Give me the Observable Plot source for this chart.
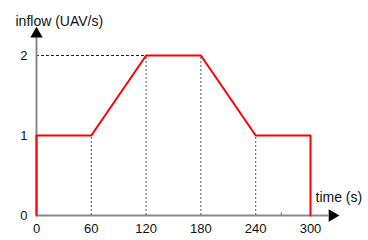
<!DOCTYPE html>
<html>
<head>
<meta charset="utf-8">
<script src="https://cdn.jsdelivr.net/npm/d3@7"></script>
<script src="https://cdn.jsdelivr.net/npm/@observablehq/plot@0.6"></script>
<style>
  html, body { margin: 0; padding: 0; background: #fff; }
  svg { display: block; }
</style>
</head>
<body>
<div id="chart"></div>
<script>
// Inflow profile (time in s, inflow in UAV/s)
const times   = [0, 0, 60, 120, 180, 240, 300, 300];
const inflows = [0, 1, 1, 2, 2, 1, 1, 0];
const xTicks = [0, 60, 120, 180, 240, 300];
const yTicks = [0, 1, 2];
const guideTimes = [60, 120, 180, 240];
const guideValues = [1, 2, 2, 1];
const strayTicks = [268];
const xLabel = "time (s)";
const yLabel = "inflow (UAV/s)";
const xAxisEnd = 320;
const yAxisEnd = 2.225;

const profile = times.map((t, i) => ({t, v: inflows[i]}));
const guides = guideTimes.map((t, i) => ({t, v: guideValues[i]}));
const font = "Liberation Sans, Arial, sans-serif";

const chart = Plot.plot({
  width: 368,
  height: 240,
  marginLeft: 36,
  marginRight: 58,
  marginTop: 55,
  marginBottom: 25,
  style: {fontFamily: font, fontSize: "13px", background: "#fff", color: "#111"},
  x: {domain: [0, 300], axis: null},
  y: {domain: [0, 2], axis: null},
  marks: [
    // dotted guides
    Plot.ruleX(guides, {x: "t", y1: 0, y2: "v", stroke: "#555", strokeWidth: 1, strokeDasharray: "2,2"}),
    Plot.ruleY([2], {x1: 0, x2: 120, stroke: "#222", strokeWidth: 1, strokeDasharray: "3,2"}),
    // axes
    Plot.ruleY([0], {x1: 0, x2: xAxisEnd, stroke: "#888", strokeWidth: 2}),
    Plot.ruleX([0], {y1: 0, y2: yAxisEnd, stroke: "#888", strokeWidth: 2}),
    Plot.ruleX(strayTicks, {y1: 0, y2: 0.035, stroke: "#666", strokeWidth: 1}),
    Plot.dot([0], {x: xAxisEnd, y: 0, symbol: "triangle", r: 4.6, rotate: 90, fill: "#000", stroke: null, dx: 3.5}),
    Plot.dot([0], {x: 0, y: yAxisEnd, symbol: "triangle", r: 4.6, fill: "#000", stroke: null, dy: -3.5}),
    // profile
    Plot.line(profile, {x: "t", y: "v", stroke: "#ff0000", strokeWidth: 2, curve: "linear"}),
    // tick labels
    Plot.text(xTicks, {x: d => d, y: 0, text: d => String(d), dy: 13, fill: "#111"}),
    Plot.text(yTicks, {x: 0, y: d => d, text: d => String(d), textAnchor: "end", dx: -9, fill: "#111"}),
    // axis labels
    Plot.text([yLabel], {frameAnchor: "top-left", text: d => d, textAnchor: "start", dx: -21, dy: -39.5, fontSize: 14, fill: "#111"}),
    Plot.text([xLabel], {x: 300, y: 0, text: d => d, textAnchor: "start", dx: 5, dy: -18, fontSize: 14, fill: "#111"})
  ]
});
document.getElementById("chart").appendChild(chart);
</script>
</body>
</html>
